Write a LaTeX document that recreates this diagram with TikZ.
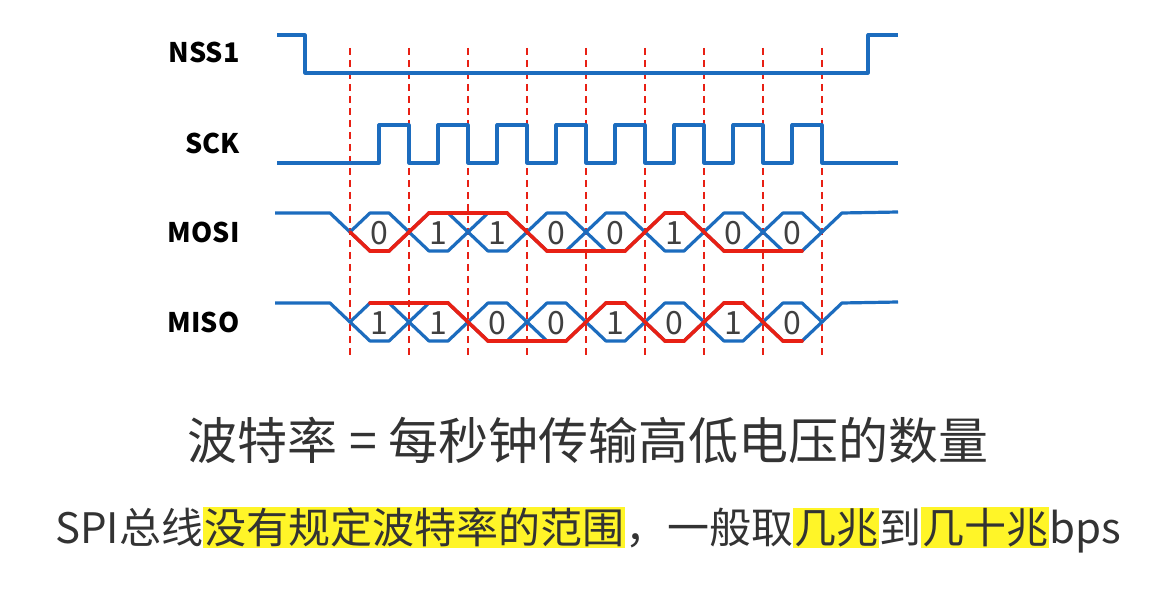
\documentclass[tikz,border=0pt]{standalone}
\usepackage{fontspec}
\setmainfont{Noto Sans CJK SC}
\definecolor{sigblue}{RGB}{28,108,190}
\definecolor{sigred}{RGB}{232,32,20}
\definecolor{hl}{RGB}{255,245,40}
\newcommand{\hlt}[1]{{\fboxsep=1pt\colorbox{hl}{#1}}}
\begin{document}
\begin{tikzpicture}[x=1pt,y=-1pt,
  blue wave/.style={draw=sigblue, line width=3.2pt, line join=round},
  red wave/.style={draw=sigred, line width=3.6pt, line cap=round, line join=round},
  grid line/.style={draw=sigred, line width=1.3pt, dash pattern=on 7pt off 5pt},
  sig label/.style={font=\fontsize{27}{27}\selectfont\bfseries, anchor=east},
  bit/.style={font=\fontsize{32}{32}\selectfont, text=black!75}]
  \useasboundingbox (0,0) rectangle (1158,593);
  % dashed time grid
  \foreach \i in {0,...,8}
    \draw[grid line] ({350+59*\i},48) -- ({350+59*\i},358);
  % labels
  \node[sig label] (nss) at (243,52) {NSS1};
  \node[sig label] (sck) at (243,143) {SCK};
  \node[sig label] (mosi) at (243,232) {MOSI};
  \node[sig label] (miso) at (243,322) {MISO};
  % NSS1
  \draw[blue wave] (277,35) -- (305,35) -- (305,73) -- (868,73) -- (868,35) -- (898,35);
  % SCK
  \draw[blue wave] (277,163) foreach \i in {0,...,7} {
      -- ({379+59*\i},163) -- ({379+59*\i},125) -- ({409+59*\i},125) -- ({409+59*\i},163)}
    -- (898,163);
  % MOSI / MISO blue eyes
  \foreach \c in {232,322} {
    \draw[blue wave] (275,\c-19) -- (330,\c-19) -- (350,\c);
    \draw[blue wave] (822,\c) -- (842,\c-19) -- (898,\c-20);
    \foreach \i in {0,...,7}
      \draw[blue wave] ({350+59*\i},\c) -- ({370+59*\i},\c-19) -- ({389+59*\i},\c-19)
        -- ({409+59*\i},\c) -- ({389+59*\i},\c+19) -- ({370+59*\i},\c+19) -- cycle;
  }
  % MOSI data
  \draw[red wave] (350,232) -- (370,251);
  \foreach \v [count=\i from 0] in {0,1,1,0,0,1,0,0} {
    \draw[red wave] ({370+59*\i},{251-38*\v}) -- ({389+59*\i},{251-38*\v});
    \node[bit] (mosi\i) at ({379.5+59*\i},233) {\v};
  }
  \foreach \a/\b [count=\i] in {0/1,1/1,1/0,0/0,0/1,1/0,0/0}
    \draw[red wave] ({330+59*\i},{251-38*\a}) -- ({370+59*\i},{251-38*\b});
  % MISO data
  \foreach \v [count=\i from 0] in {1,1,0,0,1,0,1,0} {
    \draw[red wave] ({370+59*\i},{341-38*\v}) -- ({389+59*\i},{341-38*\v});
    \node[bit] (miso\i) at ({379.5+59*\i},323) {\v};
  }
  \foreach \a/\b [count=\i] in {1/1,1/0,0/0,0/1,1/0,0/1,1/0}
    \draw[red wave] ({330+59*\i},{341-38*\a}) -- ({370+59*\i},{341-38*\b});
  % captions
  \node[font=\fontsize{50}{50}\selectfont, text=black!80] (baud) at (588,440)
    {波特率 = 每秒钟传输高低电压的数量};
  \node[font=\fontsize{42}{42}\selectfont, text=black!80] (note) at (588,530)
    {SPI总线\hlt{没有规定波特率的范围}，一般取\hlt{几兆}到\hlt{几十兆}bps};
\end{tikzpicture}
\end{document}
